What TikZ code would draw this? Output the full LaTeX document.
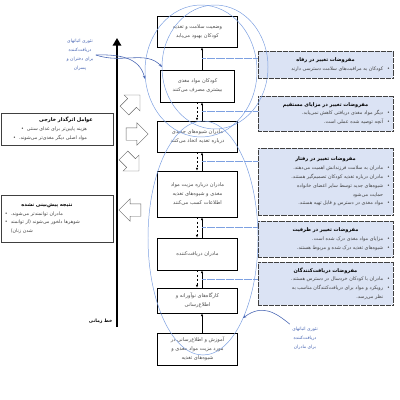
\documentclass[tikz,border=0pt]{standalone}
\usepackage{fontspec}
\setmainfont[Script=Arabic]{DejaVu Sans}
\TeXXeTstate=1
\usetikzlibrary{arrows.meta,shapes.arrows}
\newcommand\rl[1]{\beginR#1\endR}
\newcommand\ttl[1]{{\centering\fontsize{7.2}{13}\selectfont\bfseries\color{black}\rl{#1}\par}}
\definecolor{ovalblue}{RGB}{125,160,225}
\definecolor{notecol}{RGB}{70,100,178}
\definecolor{asmfill}{RGB}{219,227,244}
\tikzset{
  stepbox/.style={draw=black, line width=1pt, fill=white, align=center, inner sep=1mm,
    minimum width=40mm, text=black!70, font=\fontsize{7.3}{13}\selectfont},
  asmbox/.style={draw=black!75, densely dotted, line width=0.7pt, fill=asmfill, align=right,
    text width=64.5mm, inner sep=1.6mm, text=black!75, font=\fontsize{6.9}{12.5}\selectfont},
  extbox/.style={draw=black!75, line width=0.8pt, fill=white, text width=52mm,
    inner sep=2mm, text=black!75, font=\fontsize{6.8}{12.5}\selectfont},
  bigarr/.style={single arrow, draw=black!60, fill=white, line width=0.6pt,
    minimum height=11mm, single arrow head extend=2.5mm, inner xsep=0pt, inner ysep=3mm},
  uparr/.style={-{Latex[length=4pt,width=3.5pt]}, line width=0.9pt},
  dnarr/.style={-{Latex[length=4pt,width=3.5pt]}, line width=0.9pt, dashed},
  guide/.style={densely dotted, ovalblue, line width=0.6pt},
  oval/.style={ovalblue, line width=0.7pt},
  note/.style={text=notecol, align=center, font=\fontsize{6.4}{13}\selectfont},
  notearr/.style={notecol, line width=0.8pt, -{Stealth[length=5pt,width=4pt]}},
  timeline/.style={line width=1.2mm, -{Triangle[width=12pt,length=11pt]}}
}
\begin{document}
\begin{tikzpicture}[x=0.5mm,y=-0.5mm]
\useasboundingbox (0,0) rectangle (400,400);

% chain of results
\node[stepbox, minimum height=15.5mm] (B1) at (197.5,31.5) {\rl{وضعیت سلامت و تغذیه}\\\rl{کودکان بهبود می‌یابد}};
\node[stepbox, minimum height=16mm, minimum width=37mm] (B2) at (197.5,86) {\rl{کودکان مواد مغذی}\\\rl{بیشتری مصرف می‌کنند}};
\node[stepbox, minimum height=15.5mm] (B3) at (197.5,136.5) {\rl{مادران شیوه‌های جدیدی}\\\rl{درباره تغذیه اتخاذ می‌کنند}};
\node[stepbox, minimum height=23mm] (B4) at (197.5,194) {\rl{مادران درباره مزیت مواد}\\\rl{مغذی و شیوه‌های تغذیه}\\\rl{اطلاعات کسب می‌کنند}};
\node[stepbox, minimum height=16mm] (B5) at (197.5,254) {\rl{مادران دریافت‌کننده}};
\node[stepbox, minimum height=12.5mm] (B6) at (197.5,300.5) {\rl{کارگاه‌های نوآورانه و}\\\rl{اطلاع‌رسانی}};
\node[stepbox, minimum height=16mm] (B7) at (197.5,349) {\rl{آموزش و اطلاع‌رسانی در}\\\rl{مورد مزیت مواد مغذی و}\\\rl{شیوه‌های تغذیه}};

% links
\draw[uparr] ([xshift=2.25mm]B2.north) -- ([xshift=2.25mm]B1.south) coordinate[pos=0.5] (m1);
\draw[uparr] ([xshift=2.25mm]B3.north) -- ([xshift=2.25mm]B2.south) coordinate[pos=0.5] (m2);
\draw[dnarr] ([xshift=-0.25mm]B2.south) -- ([xshift=-0.25mm]B3.north);
\draw[uparr] ([xshift=2.25mm]B4.north) -- ([xshift=2.25mm]B3.south) coordinate[pos=0.5] (m3);
\draw[dnarr] ([xshift=-0.25mm]B3.south) -- ([xshift=-0.25mm]B4.north);
\draw[uparr] ([xshift=2.25mm]B5.north) -- ([xshift=2.25mm]B4.south) coordinate[pos=0.5] (m4);
\draw[dnarr] ([xshift=-0.25mm]B4.south) -- ([xshift=-0.25mm]B5.north);
\draw[uparr] ([xshift=2.25mm]B6.north) -- ([xshift=2.25mm]B5.south) coordinate[pos=0.5] (m5);
\draw[dnarr] ([xshift=-0.25mm]B5.south) -- ([xshift=-0.25mm]B6.north);
\draw[uparr] ([xshift=2.25mm]B7.north) -- ([xshift=2.25mm]B6.south);

% assumptions
\node[asmbox, minimum height=13.5mm] (R1) at (325.5,64.5) {\ttl{مفروضات تغییر در رفاه}
  \rl{کودکان به مراقبت‌های سلامت دسترسی دارند}\hspace{2mm}•\par};
\node[asmbox, minimum height=17.5mm] (R2) at (325.5,113.5) {\ttl{مفروضات تغییر در مزایای مستقیم}
  \rl{دیگر مواد مغذی دریافتی کاهش نمی‌یابد.}\hspace{2mm}•\\
  \rl{آنچه توصیه شده عملی است.}\hspace{2mm}•\par};
\node[asmbox, minimum height=33.5mm] (R3) at (325.5,181.5) {\ttl{مفروضات تغییر در رفتار}
  \rl{مادران به سلامت فرزندانش اهمیت می‌دهند.}\hspace{2mm}•\\
  \rl{مادران درباره تغذیه کودکان تصمیم‌گیر هستند.}\hspace{2mm}•\\
  \rl{شیوه‌های جدید توسط سایر اعضای خانواده}\hspace{2mm}•\\
  \rl{حمایت می‌شود}\hspace{2mm}\phantom{•}\\
  \rl{مواد مغذی در دسترس و قابل تهیه هستند.}\hspace{2mm}•\par};
\node[asmbox, minimum height=18mm] (R4) at (325.5,239) {\ttl{مفروضات تغییر در ظرفیت}
  \rl{مزایای مواد مغذی درک شده است.}\hspace{2mm}•\\
  \rl{شیوه‌های تغذیه درک شده و مربوط هستند.}\hspace{2mm}•\par};
\node[asmbox, minimum height=21.5mm] (R5) at (325.5,283.5) {\ttl{مفروضات دریافت‌کنندگان}
  \rl{مادران با کودکان خردسال در دسترس هستند.}\hspace{2mm}•\\
  \rl{رویکرد و مواد برای دریافت‌کنندگان مناسب به}\hspace{2mm}•\\
  \rl{نظر می‌رسد.}\hspace{2mm}\phantom{•}\par};

\draw[guide] (m1) -- (m1 -| R1.west);
\draw[guide] (m2) -- (m2 -| R2.west);
\draw[guide] (m3) -- (m3 -| R3.west);
\draw[guide] (m4) -- (m4 -| R4.west);
\draw[guide] (m5) -- (m5 -| R5.west);

% timeline and outside factors
\coordinate (T0) at (117,327);
\coordinate (T1) at (117,38);
\draw[timeline] (T0) -- (T1);
\node[anchor=east, font=\fontsize{6.6}{12}\selectfont\bfseries] (TL) at (115,321) {\rl{خط زمانی}};

\node[extbox, align=right, minimum height=16mm] (L1) at (57,129) {{\centering\fontsize{7.2}{13}\selectfont\bfseries\color{black}\rule{9mm}{0pt}\rl{عوامل اثرگذار خارجی}\par}
  •\hspace{1.5mm}\rl{هزینه پایین‌تر برای غذای سنتی}\rule{11mm}{0pt}\\
  •\hspace{1.5mm}\rl{مواد اصلی دیگر مغذی‌تر می‌شوند.}\rule{11mm}{0pt}\par};
\node[extbox, align=left, minimum height=23.5mm] (L2) at (57,218.5) {{\centering\fontsize{7.2}{13}\selectfont\bfseries\color{black}\rl{نتیجه پیش‌بینی نشده}\rule{10mm}{0pt}\par}
  •\hspace{1.5mm}\rl{مادران توانمندتر می‌شوند.}\\
  •\hspace{1.5mm}\rl{شوهرها دلخور می‌شوند (از توانمند}\\
  \phantom{•}\hspace{1.5mm}\rl{شدن زنان)}\par};

\node[bigarr, rotate=45] (A1) at (130,105) {};
\node[bigarr] (A2) at (134,134) {};
\node[bigarr, rotate=-45] (A3) at (129,161) {};
\node[bigarr, rotate=180] (A4) at (133,210) {};

% theories of change
\draw[oval] (201,71) ellipse [x radius=28mm, y radius=33mm];
\draw[oval] (215,67) ellipse [x radius=26.5mm, y radius=31mm];
\draw[oval] (203,238) ellipse [x radius=27.5mm, y radius=58.5mm];

\node[note] (N1) at (80,55) {\rl{تئوری اثباتهای}\\\rl{دریافت‌کننده}\\\rl{برای دختران و}\\\rl{پسران}};
\node[note] (N2) at (305,338) {\rl{تئوری اثباتهای}\\\rl{دریافت‌کننده}\\\rl{برای مادران}};
\coordinate (pA) at (145,79);
\coordinate (pB) at (162,67);
\coordinate (pC) at (243,318);
\draw[notearr] (N1.east) .. controls (125,54) and (140,60) .. (pA);
\draw[notearr] (N1.east) .. controls (122,64) and (146,50) .. (pB);
\draw[notearr] (N2.north west) .. controls (275,312) and (262,304) .. (pC);
\end{tikzpicture}
\end{document}
